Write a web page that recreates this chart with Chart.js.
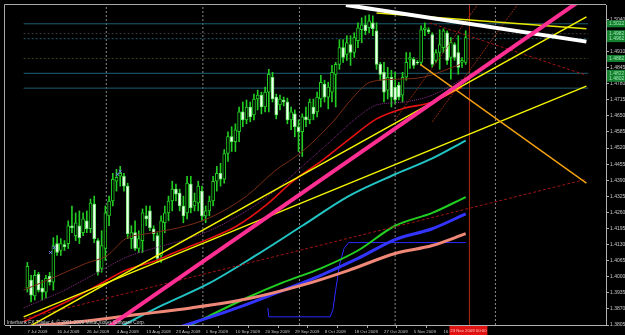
<!DOCTYPE html>
<html lang="en">
<head>
<meta charset="UTF-8">
<title>Interbank FX daily chart</title>
<script src="https://cdn.jsdelivr.net/npm/chart.js"></script>
<style>
    * { margin: 0; padding: 0; }
    body { background: #000; width: 625px; height: 335px; overflow: hidden; }
    .chart-container { position: relative; width: 625px; height: 335px; }
</style>
</head>
<body>
<div class="chart-container"><canvas id="myChart"></canvas></div>
<script>
// ---- data ----
const dateLabels = ['7 Jul 2009', '16 Jul 2009', '26 Jul 2009', '4 Aug 2009', '13 Aug 2009', '23 Aug 2009',
    '1 Sep 2009', '10 Sep 2009', '20 Sep 2009', '29 Sep 2009', '8 Oct 2009', '18 Oct 2009',
    '27 Oct 2009', '5 Nov 2009', '16 Nov 2009'];
const dateBars = [0, 8, 16, 24, 32, 40, 48, 56, 64, 72, 80, 88, 96, 104, 112];
const priceTicks = [1.3805, 1.3870, 1.3935, 1.4000, 1.4065, 1.4130, 1.4195, 1.4260, 1.4325, 1.4390,
    1.4455, 1.4520, 1.4585, 1.4650, 1.4715, 1.4780, 1.4845, 1.4910, 1.4975, 1.5040];

const opens = [1.3954, 1.3986, 1.3922, 1.4010, 1.3954, 1.3938, 1.4002, 1.3978, 1.4134, 1.4106,
    1.4130, 1.4134, 1.4206, 1.4166, 1.4206, 1.4178, 1.4226, 1.4194, 1.4294, 1.4146,
    1.4034, 1.4114, 1.4246, 1.4306, 1.4386, 1.4406, 1.4406, 1.4366, 1.4154, 1.4178,
    1.4114, 1.4146, 1.4246, 1.4266, 1.4194, 1.4166, 1.4086, 1.4218, 1.4258, 1.4306,
    1.4354, 1.4338, 1.4286, 1.4258, 1.4374, 1.4286, 1.4298, 1.4346, 1.4246, 1.4266,
    1.4306, 1.4386, 1.4418, 1.4394, 1.4498, 1.4566, 1.4546, 1.4586, 1.4666, 1.4634,
    1.4686, 1.4654, 1.4718, 1.4734, 1.4686, 1.4746, 1.4806, 1.4726, 1.4694, 1.4714,
    1.4706, 1.4634, 1.4658, 1.4606, 1.4586, 1.4646, 1.4634, 1.4686, 1.4666, 1.4718,
    1.4778, 1.4726, 1.4746, 1.4818, 1.4858, 1.4926, 1.4898, 1.4938, 1.4906, 1.4954,
    1.4998, 1.5018, 1.5006, 1.5026, 1.4994, 1.4858, 1.4826, 1.4754, 1.4806, 1.4766,
    1.4774, 1.4734, 1.4806, 1.4878, 1.4878, 1.4866, 1.4866, 1.4998, 1.4998, 1.4978,
    1.4874, 1.4906, 1.4926, 1.4986, 1.4886, 1.4938, 1.4906, 1.4866, 1.4866];
const highs = [1.4058, 1.4006, 1.4026, 1.4018, 1.3986, 1.4006, 1.4018, 1.4158, 1.4166, 1.4154,
    1.4146, 1.4226, 1.4286, 1.4258, 1.4266, 1.4258, 1.4266, 1.4314, 1.4326, 1.4154,
    1.4186, 1.4286, 1.4326, 1.4418, 1.4434, 1.4446, 1.4418, 1.4378, 1.4206, 1.4226,
    1.4186, 1.4274, 1.4286, 1.4286, 1.4206, 1.4178, 1.4246, 1.4286, 1.4326, 1.4386,
    1.4374, 1.4354, 1.4326, 1.4406, 1.4406, 1.4338, 1.4386, 1.4366, 1.4286, 1.4326,
    1.4406, 1.4446, 1.4458, 1.4514, 1.4586, 1.4606, 1.4618, 1.4686, 1.4706, 1.4714,
    1.4706, 1.4738, 1.4754, 1.4746, 1.4766, 1.4838, 1.4826, 1.4738, 1.4734, 1.4726,
    1.4722, 1.4686, 1.4674, 1.4634, 1.4658, 1.4686, 1.4718, 1.4718, 1.4746, 1.4814,
    1.4794, 1.4786, 1.4854, 1.4866, 1.4958, 1.4958, 1.4974, 1.4974, 1.4986, 1.5026,
    1.5046, 1.5054, 1.5058, 1.5054, 1.5026, 1.4866, 1.4866, 1.4846, 1.4834, 1.4826,
    1.4786, 1.4826, 1.4906, 1.4906, 1.4886, 1.4874, 1.5014, 1.5026, 1.5006, 1.4986,
    1.4918, 1.4998, 1.5002, 1.4994, 1.4966, 1.4946, 1.4974, 1.4886, 1.4994];
const lows = [1.3938, 1.3898, 1.3906, 1.3938, 1.3906, 1.3914, 1.3966, 1.3946, 1.4086, 1.4086,
    1.4106, 1.4114, 1.4178, 1.4146, 1.4134, 1.4166, 1.4178, 1.4178, 1.4138, 1.4006,
    1.4018, 1.4066, 1.4206, 1.4286, 1.4346, 1.4366, 1.4346, 1.4154, 1.4114, 1.4106,
    1.4098, 1.4098, 1.4206, 1.4186, 1.4146, 1.4058, 1.4058, 1.4178, 1.4226, 1.4266,
    1.4306, 1.4266, 1.4218, 1.4234, 1.4258, 1.4266, 1.4266, 1.4226, 1.4218, 1.4246,
    1.4286, 1.4346, 1.4366, 1.4378, 1.4466, 1.4506, 1.4506, 1.4546, 1.4606, 1.4618,
    1.4626, 1.4634, 1.4674, 1.4658, 1.4666, 1.4666, 1.4706, 1.4638, 1.4674, 1.4690,
    1.4618, 1.4594, 1.4566, 1.4506, 1.4486, 1.4606, 1.4618, 1.4634, 1.4646, 1.4686,
    1.4706, 1.4678, 1.4706, 1.4686, 1.4838, 1.4866, 1.4874, 1.4854, 1.4886, 1.4926,
    1.4946, 1.4978, 1.4986, 1.4974, 1.4838, 1.4794, 1.4706, 1.4718, 1.4686, 1.4698,
    1.4714, 1.4706, 1.4794, 1.4842, 1.4842, 1.4858, 1.4854, 1.4974, 1.4982, 1.4846,
    1.4866, 1.4838, 1.4906, 1.4858, 1.4798, 1.4874, 1.4818, 1.4846, 1.4858];
const closes = [1.4042, 1.3926, 1.4006, 1.3946, 1.3938, 1.3994, 1.3978, 1.4126, 1.4098, 1.4134,
    1.4122, 1.4206, 1.4198, 1.4218, 1.4158, 1.4234, 1.4194, 1.4298, 1.4154, 1.4018,
    1.4126, 1.4258, 1.4306, 1.4394, 1.4402, 1.4418, 1.4366, 1.4174, 1.4178, 1.4114,
    1.4154, 1.4258, 1.4234, 1.4198, 1.4174, 1.4074, 1.4226, 1.4258, 1.4306, 1.4354,
    1.4334, 1.4286, 1.4246, 1.4378, 1.4278, 1.4306, 1.4366, 1.4246, 1.4266, 1.4306,
    1.4386, 1.4418, 1.4394, 1.4498, 1.4566, 1.4546, 1.4594, 1.4666, 1.4634, 1.4686,
    1.4646, 1.4718, 1.4734, 1.4686, 1.4746, 1.4818, 1.4718, 1.4654, 1.4718, 1.4706,
    1.4634, 1.4666, 1.4606, 1.4586, 1.4646, 1.4634, 1.4706, 1.4658, 1.4726, 1.4786,
    1.4726, 1.4766, 1.4826, 1.4858, 1.4926, 1.4886, 1.4946, 1.4906, 1.4966, 1.5006,
    1.5018, 1.4994, 1.5034, 1.5002, 1.4858, 1.4818, 1.4746, 1.4806, 1.4726, 1.4714,
    1.4726, 1.4806, 1.4866, 1.4886, 1.4854, 1.4864, 1.4998, 1.5006, 1.4990, 1.4858,
    1.4906, 1.4938, 1.4994, 1.4874, 1.4946, 1.4886, 1.4846, 1.4874, 1.4966];

// indicator curves: [bar, price]
const redMA = [[-1, 1.3818], [11.5, 1.3906], [19, 1.3966], [26.5, 1.4026], [34.75, 1.4066], [39, 1.4094],
    [45.75, 1.4134], [49, 1.4154], [56.5, 1.4206], [64, 1.4286], [71.5, 1.4386], [79, 1.4466],
    [86.5, 1.4554], [94, 1.4638], [100.75, 1.4678], [109, 1.4706], [117, 1.4766]];
const brownMA = [[-1, 1.3946], [7.25, 1.3998], [15.75, 1.4054], [21.5, 1.4086], [26.5, 1.4154], [32.25, 1.4174],
    [40.75, 1.4198], [49, 1.4238], [59, 1.4326], [66.5, 1.4426], [74, 1.4506], [82.25, 1.4626],
    [87.75, 1.4726], [92.25, 1.4786], [99, 1.4798], [106.5, 1.4806], [116.5, 1.4858]];
const purpleMA = [[-1, 1.3874], [4, 1.3906], [9, 1.3938], [19, 1.4018], [26.5, 1.4078], [34.75, 1.4118],
    [41.5, 1.4146], [49, 1.4186], [59, 1.4266], [66.5, 1.4346], [74, 1.4446], [81.5, 1.4546],
    [89, 1.4646], [94, 1.4694], [101.5, 1.4706], [109, 1.4734], [117, 1.4798]];
const cyanMA = [[24, 1.3790], [36.5, 1.3886], [49, 1.3974], [61.5, 1.4086], [74, 1.4206], [86.5, 1.4326],
    [99, 1.4414], [109, 1.4478], [118, 1.4550]];
const greenMA = [[42, 1.3790], [59, 1.3914], [69, 1.3978], [79, 1.4034], [89, 1.4106],
    [99, 1.4206], [109, 1.4258], [118, 1.4322]];
const blueMA = [[36.5, 1.3774], [57.25, 1.3878], [69, 1.3946], [79, 1.4006], [89, 1.4074], [99, 1.4150],
    [109, 1.4194], [118, 1.4254]];
const salmonMA = [[-1, 1.3798], [14, 1.3818], [29, 1.3846], [44, 1.3874], [59, 1.3910], [74, 1.3966],
    [86.5, 1.4026], [99, 1.4094], [109, 1.4126], [118, 1.4174]];
const blueStep = [[64.75, 1.3874], [65, 1.3838], [81.5, 1.3838], [82.25, 1.3866], [83, 1.3946], [84, 1.4046],
    [85.25, 1.4114], [86.5, 1.4138], [118, 1.4138]];
const fractals = [[6.25, 1.4098], [7.25, 1.4118], [24.25, 1.4414], [25, 1.4426]];

// trend lines: two end points each
const whiteLine = [[85.75, 1.5098], [150.5, 1.4950]];
const yellowTop = [[94, 1.5066], [150.5, 1.5002]];
const yellowA = [[-1, 1.3786], [150.5, 1.5050]];
const yellowB = [[-1, 1.3838], [150.5, 1.4770]];
const pinkLine = [[21.5, 1.3794], [148.25, 1.5110]];
const orangeLine = [[105.75, 1.4858], [150.5, 1.4378]];
const darkRedA = [[-1, 1.3830], [150.5, 1.4394]];
const darkRedB = [[108.25, 1.5026], [150.5, 1.4814]];
const fanA = [[99, 1.4634], [121.5, 1.5106]];
const fanB = [[109, 1.4626], [132.25, 1.5106]];

const hLevels = [1.5022, 1.4982, 1.4962, 1.4882, 1.4822, 1.4762];
const levelBoxes = [1.5022, 1.4982, 1.4962, 1.4882, 1.4822, 1.4802];
const separatorBars = [21.25, 47.25, 73.25, 99, 126];
const timeLineBar = 119;
const timeLabel = '23 Nov 2009 00:00';

// ---- chart ----
const yMin = 1.3805, yMax = 1.5098;
const fontFam = "'Liberation Sans', Arial, sans-serif";
const bars = opens.map((o, i) => i);

function pts(arr) {
    return arr.map(p => ({ x: p[0], y: p[1] }));
}

function lineSet(arr, color, width, dash, order, smooth) {
    return {
        type: 'line', data: pts(arr), borderColor: color, borderWidth: width,
        borderDash: dash || [], pointRadius: 0, fill: false, order: order, clip: 0,
        tension: smooth ? 0.35 : 0, cubicInterpolationMode: smooth ? 'monotone' : 'default'
    };
}

const datasets = [];

// horizontal price levels
const levelColors = ['#1d5e72', '#3c3c3c', '#1d5e72', '#3d3d1e', '#1d5e72', '#1d5e72'];
const levelDash = [[], [2, 2], [2, 2], [2, 2], [], []];
hLevels.forEach((v, k) => {
    datasets.push(lineSet([[-1, v], [151, v]], levelColors[k], 1, levelDash[k], 60));
});
// month separators
separatorBars.forEach(b => {
    datasets.push(lineSet([[b, yMin], [b, yMax]], '#8a8a8a', 1, [2, 2], 60));
});
datasets.push(lineSet([[timeLineBar, yMin], [timeLineBar, yMax]], '#b02a10', 1, [], 60));

// candles
datasets.push({
    type: 'bar', data: bars.map(i => ({ x: i, y: [lows[i], highs[i]] })),
    backgroundColor: '#22cc22', grouped: false, barPercentage: 1, categoryPercentage: 1,
    maxBarThickness: 1, order: 40
});
datasets.push({
    type: 'bar', data: bars.filter(i => closes[i] >= opens[i]).map(i => ({ x: i, y: [opens[i], closes[i]] })),
    backgroundColor: '#000000', borderColor: '#22cc22', borderWidth: 1, borderSkipped: false,
    grouped: false, barPercentage: 1, categoryPercentage: 1, maxBarThickness: 3, order: 39
});
datasets.push({
    type: 'bar', data: bars.filter(i => closes[i] < opens[i]).map(i => ({ x: i, y: [opens[i], closes[i]] })),
    backgroundColor: '#f2fff2', borderColor: '#6ee86e', borderWidth: 1, borderSkipped: false,
    grouped: false, barPercentage: 1, categoryPercentage: 1, maxBarThickness: 3, order: 39
});

// moving averages
datasets.push(lineSet(salmonMA, '#f08878', 3, [], 30, true));
datasets.push(lineSet(blueMA, '#3434ff', 3, [], 30, true));
datasets.push(lineSet(greenMA, '#22d022', 2, [], 30, true));
datasets.push(lineSet(cyanMA, '#22c4c4', 2, [], 30, true));
datasets.push(lineSet(blueStep, '#2a2aff', 1, [], 30, false));
datasets.push(lineSet(brownMA, '#7a2c12', 1, [], 30, true));
datasets.push(lineSet(purpleMA, '#8c2c8c', 1, [1, 1], 30, true));
datasets.push(lineSet(redMA, '#e81212', 1.6, [], 30, true));
datasets.push({
    type: 'line', data: pts(fractals), showLine: false, pointStyle: 'crossRot', pointRadius: 2,
    borderColor: '#8080ff', borderWidth: 1, order: 25
});

// trend lines
datasets.push(lineSet(darkRedA, '#a01414', 1, [3, 2], 20));
datasets.push(lineSet(darkRedB, '#a01414', 1, [3, 2], 20));
datasets.push(lineSet(fanA, '#8a2a10', 1, [2, 1], 20));
datasets.push(lineSet(fanB, '#8a2a10', 1, [2, 1], 20));
datasets.push(lineSet(orangeLine, '#f0a010', 1.5, [], 15));
datasets.push(lineSet(yellowA, '#f4f400', 1.5, [], 15));
datasets.push(lineSet(yellowB, '#f4f400', 1.5, [], 15));
datasets.push(lineSet(yellowTop, '#e8e800', 1.5, [], 15));
datasets.push(lineSet(pinkLine, '#ff2e92', 4, [], 10));
datasets.push(lineSet(whiteLine, '#ffffff', 4, [], 10));

const mtFrame = {
    id: 'mtFrame',
    beforeDraw(chart) {
        const ctx = chart.ctx;
        ctx.save();
        ctx.fillStyle = '#000000';
        ctx.fillRect(0, 0, chart.width, chart.height);
        ctx.restore();
    },
    afterDraw(chart) {
        const { ctx, chartArea: a, scales: { x, y } } = chart;
        ctx.save();
        ctx.strokeStyle = '#a8a8a8';
        ctx.lineWidth = 1;
        ctx.beginPath();
        ctx.moveTo(a.left - 0.5, a.bottom);
        ctx.lineTo(a.left - 0.5, a.top - 0.5);
        ctx.lineTo(a.right, a.top - 0.5);
        ctx.stroke();

        // price labels of the horizontal lines
        ctx.font = '5px ' + fontFam;
        ctx.textBaseline = 'middle';
        ctx.textAlign = 'left';
        levelBoxes.forEach(v => {
            const py = y.getPixelForValue(v);
            ctx.fillStyle = '#14802e';
            ctx.fillRect(a.right + 1, py - 3.5, 18, 7);
            ctx.fillStyle = '#9ce8b4';
            ctx.fillText(v.toFixed(4), a.right + 3, py);
        });

        // time label of the red vertical line
        const tx = x.getPixelForValue(timeLineBar);
        ctx.fillStyle = '#e01212';
        ctx.fillRect(tx - 20, a.bottom + 1, 38, 9);
        ctx.fillStyle = '#ffc0c0';
        ctx.font = '4.3px ' + fontFam;
        ctx.textAlign = 'center';
        ctx.fillText(timeLabel, tx - 1, a.bottom + 5.5);

        ctx.fillStyle = '#cccccc';
        ctx.textAlign = 'left';
        ctx.textBaseline = 'alphabetic';
        ctx.font = '4.8px ' + fontFam;
        ctx.fillText('Interbank FX Trader 4, \u00a9 2001-2009 MetaQuotes Software Corp.', a.left + 2, a.bottom - 1);
        ctx.restore();
    }
};

new Chart(document.getElementById('myChart'), {
    type: 'bar',
    data: { datasets: datasets },
    plugins: [mtFrame],
    options: {
        responsive: true,
        maintainAspectRatio: false,
        animation: false,
        devicePixelRatio: 1,
        layout: { padding: { left: 2, top: 2, right: 0, bottom: 0 } },
        plugins: { legend: { display: false }, tooltip: { enabled: false } },
        scales: {
            x: {
                type: 'linear', min: -0.625, max: 150.375,
                grid: { drawOnChartArea: false, drawTicks: true, tickLength: 3, color: '#b0b0b0' },
                border: { display: true, color: '#b0b0b0' },
                ticks: {
                    autoSkip: false, maxRotation: 0, align: 'start', labelOffset: 2, padding: 1,
                    color: '#c8c8c8', font: { family: fontFam, size: 4.3 },
                    callback: (v, i) => dateLabels[i]
                },
                afterBuildTicks: s => { s.ticks = dateBars.map(b => ({ value: b - 0.5 })); },
                afterFit: s => { s.height = 10; }
            },
            y: {
                position: 'right', min: yMin, max: yMax,
                grid: { drawOnChartArea: false, drawTicks: true, tickLength: 3, color: '#b0b0b0' },
                border: { display: true, color: '#b0b0b0' },
                ticks: {
                    padding: 1, color: '#c8c8c8', font: { family: fontFam, size: 5 },
                    callback: v => Number(v).toFixed(4)
                },
                afterBuildTicks: s => { s.ticks = priceTicks.map(v => ({ value: v })); },
                afterFit: s => { s.width = 19; }
            }
        }
    }
});
</script>
</body>
</html>
